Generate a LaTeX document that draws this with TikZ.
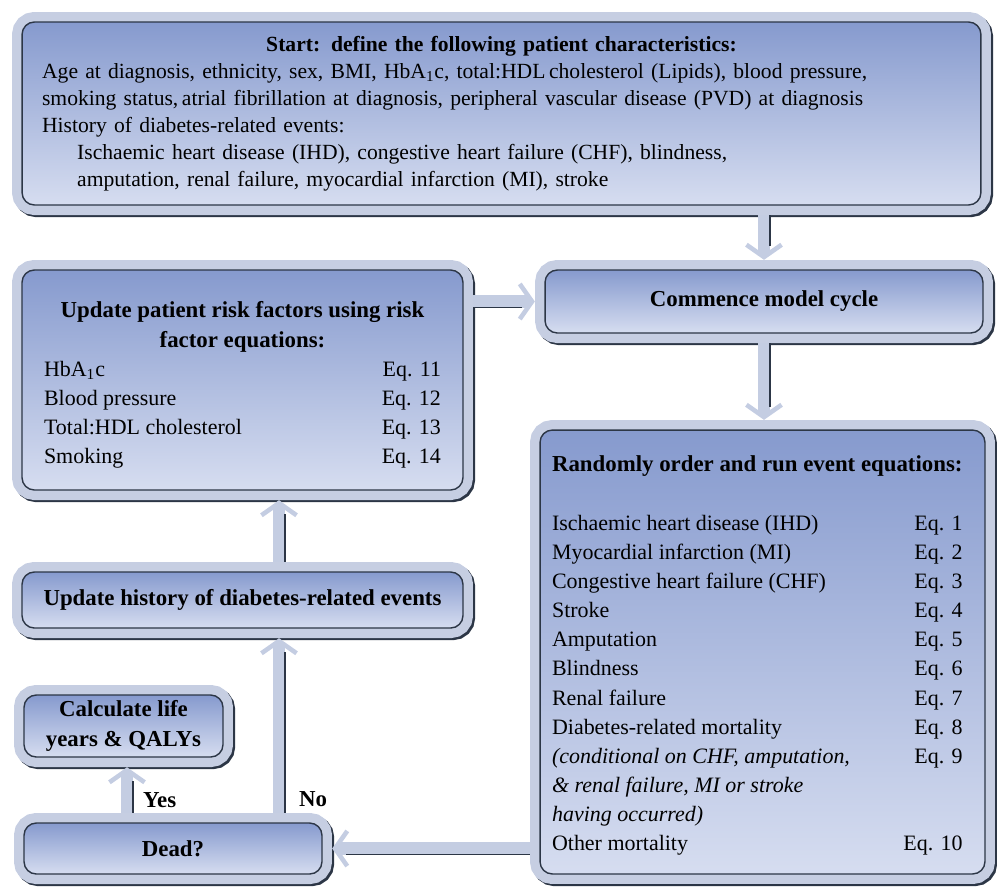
\documentclass[tikz,border=0pt]{standalone}
\usepackage{fontspec}
\setmainfont{Liberation Serif}
\usetikzlibrary{arrows.meta}
\definecolor{boxtop}{RGB}{134,154,206}
\definecolor{boxbot}{RGB}{214,221,240}
\definecolor{bevel}{RGB}{198,206,226}
\definecolor{edge}{RGB}{44,54,70}
\definecolor{shaft}{RGB}{196,205,226}
\newcommand{\boxhead}[1]{{\fontsize{13}{16.6}\selectfont\bfseries #1}}
\tikzset{
  panel/.style={rounded corners=7pt, top color=boxtop, bottom color=boxbot, draw=edge, line width=0.8pt, inner sep=0pt,
    preaction={draw=edge, line width=11.4pt, transform canvas={shift={(1.2pt,-1.2pt)}}},
    preaction={draw=bevel, line width=11.4pt}},
  vflow/.style={draw=shaft, line width=7pt, shorten <=5.4pt, shorten >=5.4pt,
    -{Straight Barb[length=7pt 0, width=20pt 0, line width=2.6pt 0]},
    postaction={draw=edge, line width=0.8pt, -, shorten >=13pt, transform canvas={xshift=3.5pt}}},
  hflow/.style={draw=shaft, line width=7pt, shorten <=5.4pt, shorten >=5.4pt,
    -{Straight Barb[length=7pt 0, width=20pt 0, line width=2.6pt 0]},
    postaction={draw=edge, line width=0.8pt, -, shorten >=13pt, transform canvas={yshift=-3.5pt}}}
}
\begin{document}
\begin{tikzpicture}[x=0.02cm, y=-0.02cm, font=\fontsize{12.5}{16.6}\selectfont]
\useasboundingbox (0,0) rectangle (997,887);
% boxes
\node[panel, minimum width=19.18cm, minimum height=3.66cm, text width=18.38cm, align=left,
  font=\fontsize{12.3}{15.4}\selectfont] (start) at (501.5,113.5)
  {{\centering\bfseries Start: define the following patient characteristics:\par}
   Age at diagnosis, ethnicity, sex, BMI, HbA\textsubscript{1}c, total:HDL\,cholesterol (Lipids), blood pressure,\\
   smoking status,\,atrial fibrillation at diagnosis, peripheral vascular disease (PVD) at diagnosis\\
   History of diabetes-related events:\\
   \hspace*{20pt}Ischaemic heart disease (IHD), congestive heart failure (CHF), blindness,\\
   \hspace*{20pt}amputation, renal failure, myocardial infarction (MI), stroke};
\node[panel, minimum width=8.76cm, minimum height=1.26cm] (commence) at (764,301.5) {\boxhead{Commence model cycle}};
\node[panel, minimum width=8.82cm, minimum height=4.4cm] (risk) at (242.5,380)
  {\begin{tabular*}{7.94cm}{@{}l@{\extracolsep{\fill}}r@{}}
   \multicolumn{2}{@{}c@{}}{\rule{0pt}{17.3pt}\boxhead{Update patient risk factors using risk}}\\
   \multicolumn{2}{@{}c@{}}{\boxhead{factor equations:}}\\
   HbA\textsubscript{1}c & Eq. 11\\
   Blood pressure & Eq. 12\\
   Total:HDL cholesterol & Eq. 13\\
   Smoking & Eq. 14
   \end{tabular*}};
\node[panel, minimum width=8.9cm, minimum height=8.88cm] (random) at (762.5,652)
  {\begin{tabular*}{8.16cm}{@{}l@{\extracolsep{\fill}}r@{}}
   \multicolumn{2}{@{}c@{}}{\rule{0pt}{15.6pt}\boxhead{Randomly order and run event equations:}}\\[16.6pt]
   Ischaemic heart disease (IHD) & Eq. 1\\
   Myocardial infarction (MI) & Eq. 2\\
   Congestive heart failure (CHF) & Eq. 3\\
   Stroke & Eq. 4\\
   Amputation & Eq. 5\\
   Blindness & Eq. 6\\
   Renal failure & Eq. 7\\
   Diabetes-related mortality & Eq. 8\\
   \textit{(conditional on CHF, amputation,} & Eq. 9\\
   \textit{\& renal failure, MI or stroke} & \\
   \textit{having occurred)} & \\
   Other mortality & Eq. 10
   \end{tabular*}\rule{0.26cm}{0pt}};
\node[panel, minimum width=8.82cm, minimum height=1.12cm] (history) at (242.5,600) {\boxhead{Update history of diabetes-related events}};
\node[panel, minimum width=3.98cm, minimum height=1.24cm, align=center, font=\fontsize{13}{17}\selectfont] (calc) at (123.5,726)
  {\textbf{Calculate life}\\\textbf{years \& QALYs}};
\node[panel, minimum width=5.96cm, minimum height=1.02cm] (dead) at (173,848.5) {\boxhead{Dead?}};
% connectors
\coordinate (noline) at (279,0);
\coordinate (yesline) at (127,0);
\draw[vflow] (start.south -| commence.north) -- (commence.north);
\draw[vflow] (commence.south) -- (commence.south |- random.north);
\draw[hflow] (risk.east |- commence.west) -- (commence.west);
\draw[vflow] (history.north -| noline) -- (risk.south -| noline);
\draw[vflow] (dead.north -| noline) -- node[pos=0.12, right, inner sep=0pt, xshift=8pt] (no) {\boxhead{No}} (history.south -| noline);
\draw[vflow] (dead.north -| yesline) -- node[pos=0.35, right, inner sep=0pt, xshift=5.7pt] (yes) {\boxhead{Yes}} (calc.south -| yesline);
\draw[hflow] (random.west |- dead.east) -- (dead.east);
\end{tikzpicture}
\end{document}
